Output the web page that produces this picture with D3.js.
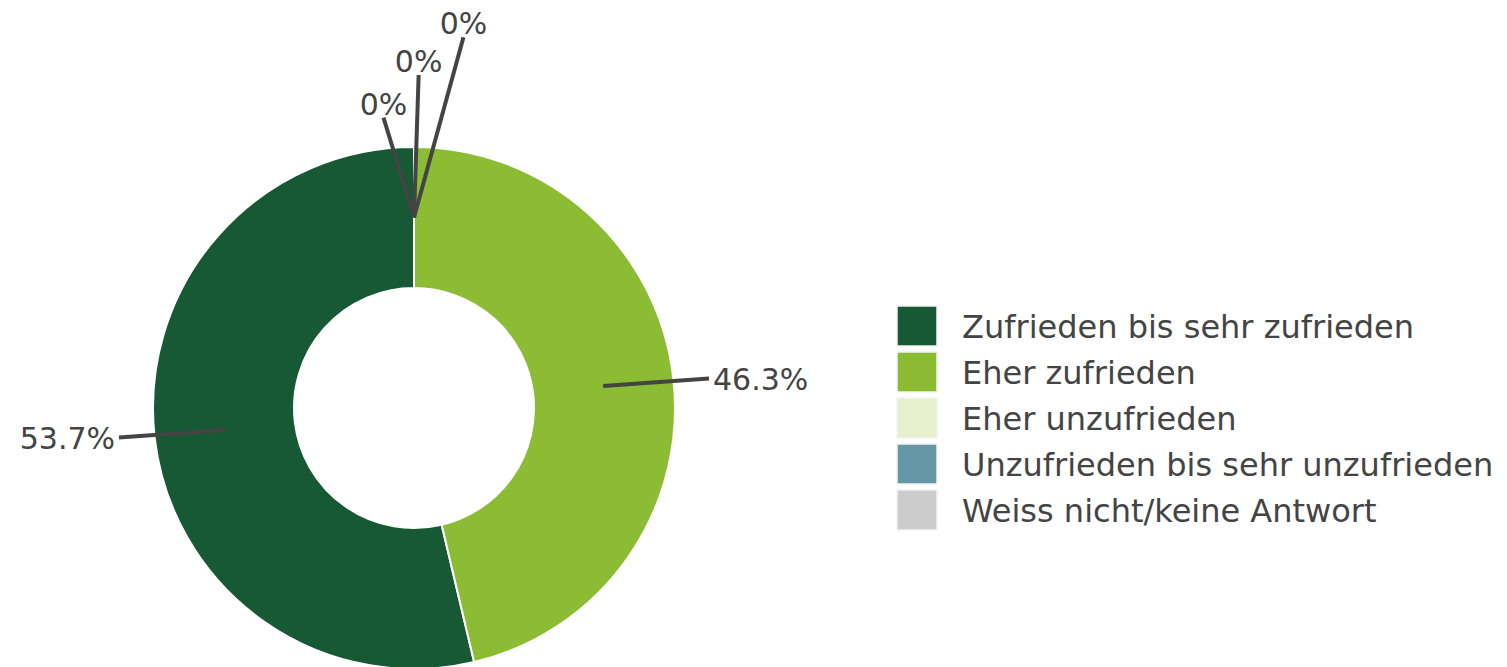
<!DOCTYPE html>
<html>
<head>
<meta charset="utf-8">
<script src="https://cdn.jsdelivr.net/npm/d3@7/dist/d3.min.js"></script>
<style>
  body { margin: 0; background: #fff; }
  svg { display: block; font-family: "DejaVu Sans", sans-serif; }
</style>
</head>
<body>
<div id="chart"></div>
<script>
var categories = ["Zufrieden bis sehr zufrieden", "Eher zufrieden", "Eher unzufrieden", "Unzufrieden bis sehr unzufrieden", "Weiss nicht/keine Antwort"];
var shares = [53.7, 46.3, 0, 0, 0];
var labels = ["53.7%", "46.3%", "0%", "0%", "0%"];
var colours = ["#175934", "#8cbb34", "#e6f0cd", "#6598a4", "#cccccc"];

var width = 1507, height = 667;
var cx = 414, cy = 408, outerR = 261, innerR = 120;

var svg = d3.select("#chart").append("svg")
  .attr("width", width)
  .attr("height", height);

var rows = categories.map(function(c, i){
  return {name: c, value: shares[i], label: labels[i], colour: colours[i], idx: i};
});

// counterclockwise from 12 o'clock
var pie = d3.pie().sort(null).value(function(d){ return d.value; })
  .startAngle(0).endAngle(-2 * Math.PI);
var arcs = pie(rows);

var arc = d3.arc().innerRadius(innerR).outerRadius(outerR);

var g = svg.append("g").attr("transform", "translate(" + cx + "," + cy + ")");

g.selectAll("path.slice")
  .data(arcs)
  .enter()
  .append("path")
  .attr("class", "slice")
  .attr("d", arc)
  .attr("fill", function(d){ return d.data.colour; })
  .attr("stroke", "#fff")
  .attr("stroke-width", 2);

function pt(a, r){ return [Math.sin(a) * r, -Math.cos(a) * r]; }

// label placement: big slices go out sideways, zero slices fanned out
var midR = (innerR + outerR) / 2;
var zeroCount = 0;
arcs.forEach(function(d){
  var a = (d.startAngle + d.endAngle) / 2;
  d.p0 = pt(a, midR);
  if (d.data.value === 0) {
    var la = a + ((zeroCount - 1) * 6.8 + 0.8) * Math.PI / 180;
    d.p1 = pt(la, 292 + zeroCount * 41);
    d.zero = true;
    zeroCount++;
  } else {
    var e = pt(a, 297);
    d.p1 = [e[0], d.p0[1] + (e[1] - d.p0[1]) * 0.6];
  }
});

g.selectAll("line.leader")
  .data(arcs)
  .enter()
  .append("line")
  .attr("class", "leader")
  .attr("x1", function(d){ return d.p0[0]; })
  .attr("y1", function(d){ return d.p0[1]; })
  .attr("x2", function(d){ return d.p1[0]; })
  .attr("y2", function(d){ return d.p1[1]; })
  .attr("stroke", "#444")
  .attr("stroke-width", 4);

g.selectAll("text.lbl")
  .data(arcs)
  .enter()
  .append("text")
  .attr("class", "lbl")
  .attr("x", function(d){
    if (d.zero) return d.p1[0];
    return d.p1[0] + (d.p1[0] < 0 ? -4 : 4);
  })
  .attr("y", function(d){
    if (d.zero) return d.p1[1] - 3;
    return d.p1[1] + 11;
  })
  .attr("text-anchor", function(d){
    if (d.zero) return "middle";
    return d.p1[0] < 0 ? "end" : "start";
  })
  .style("font-size", "30px")
  .style("fill", "#444")
  .text(function(d){ return d.data.label; });

// legend
var legend = svg.append("g").attr("transform", "translate(897,306)");
var items = legend.selectAll("g.item")
  .data(rows)
  .enter()
  .append("g")
  .attr("class", "item")
  .attr("transform", function(d, i){ return "translate(0," + (i * 46) + ")"; });

items.append("rect")
  .attr("width", 40)
  .attr("height", 40)
  .attr("fill", function(d){ return d.colour; })
  .attr("stroke", "#f2f2f2")
  .attr("stroke-width", 1.5);

items.append("text")
  .attr("x", 65)
  .attr("y", 32)
  .style("font-size", "32px")
  .style("fill", "#444")
  .text(function(d){ return d.name; });
</script>
</body>
</html>
